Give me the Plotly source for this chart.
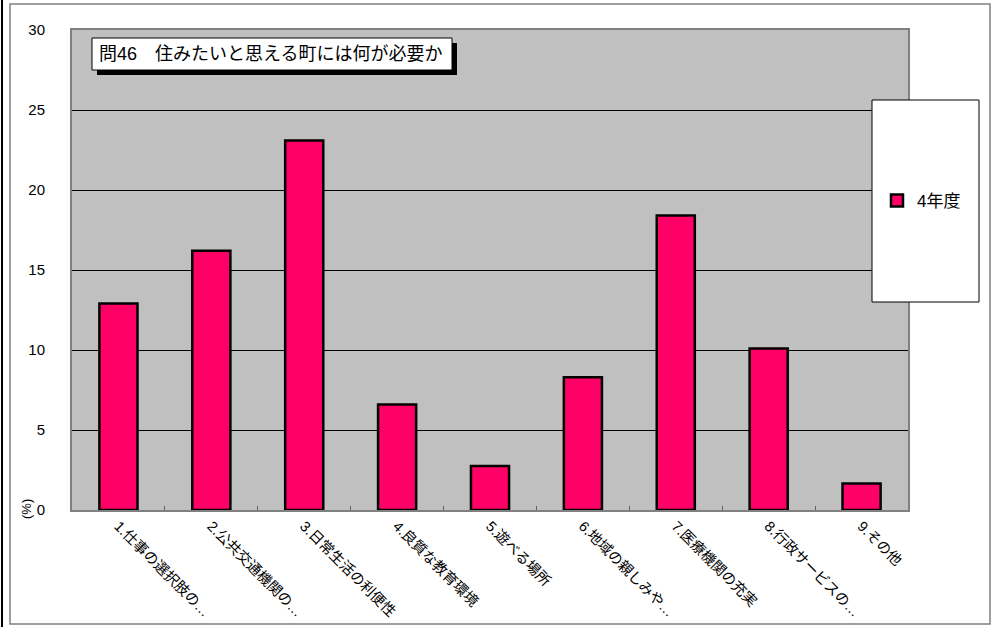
import plotly.graph_objects as go

categories = ["1.仕事の選択肢の…", "2.公共交通機関の…", "3.日常生活の利便性", "4.良質な教育環境",
              "5.遊べる場所", "6.地域の親しみや…", "7.医療機関の充実", "8.行政サービスの…", "9.その他"]
values = [12.9, 16.2, 23.1, 6.6, 2.75, 8.3, 18.4, 10.1, 1.65]
series_name = "4年度"
title_text = "問46　住みたいと思える町には何が必要か"
y_ticks = [0, 5, 10, 15, 20, 25, 30]

W, H = 1004, 627
L, R, T, B = 72, 908, 30, 510
FONT = "Liberation Sans, Noto Sans CJK JP, sans-serif"


def px(x):
    return (x - L) / (R - L)


def py(y):
    return (B - y) / (B - T)


fig = go.Figure()
fig.add_trace(go.Bar(
    x=categories, y=values, name=series_name,
    marker=dict(color="#FF0066", line=dict(color="black", width=2.5)),
    width=0.41,
))

shapes = [
    # outer chart frame
    dict(type="rect", xref="paper", yref="paper", x0=px(10), x1=px(990), y0=py(4), y1=py(624),
         line=dict(color="#808080", width=1.5), fillcolor="rgba(0,0,0,0)", layer="below"),
    # window edge on the left
    dict(type="line", xref="paper", yref="paper", x0=px(2), x1=px(2), y0=py(0), y1=py(627),
         line=dict(color="black", width=2)),
    # title shadow
    dict(type="rect", xref="paper", yref="paper", x0=px(97), x1=px(457), y0=py(43), y1=py(75),
         line=dict(width=0), fillcolor="black"),
    # title box
    dict(type="rect", xref="paper", yref="paper", x0=px(92), x1=px(452), y0=py(38), y1=py(70),
         line=dict(color="black", width=1), fillcolor="white"),
    # legend box
    dict(type="rect", xref="paper", yref="paper", x0=px(872), x1=px(979), y0=py(100), y1=py(302),
         line=dict(color="black", width=1), fillcolor="white"),
]

annotations = [
    dict(text=title_text, xref="paper", yref="paper", x=px(97), y=py(54), xanchor="left",
         yanchor="middle", showarrow=False, font=dict(family=FONT, size=18, color="black")),
    dict(text="(%)", xref="paper", yref="paper", x=px(26), y=py(509), xanchor="center",
         yanchor="middle", textangle=-90, showarrow=False, font=dict(family=FONT, size=13, color="black")),
]

fig.update_layout(
    width=W, height=H,
    margin=dict(l=L, r=W - R, t=T, b=H - B, pad=0, autoexpand=False),
    paper_bgcolor="white", plot_bgcolor="#C0C0C0",
    font=dict(family=FONT, size=13, color="black"),
    showlegend=True,
    legend=dict(x=px(877), y=py(201), xanchor="left", yanchor="middle", bgcolor="rgba(0,0,0,0)",
                borderwidth=0, font=dict(family=FONT, size=17, color="black"),
                itemwidth=30),
    shapes=shapes, annotations=annotations,
    bargap=0.59,
)
fig.update_xaxes(
    type="category", tickangle=45, showgrid=False, showline=True, mirror=True, automargin=False,
    linecolor="#808080", linewidth=2, ticks="inside", tickson="boundaries", ticklen=4,
    tickcolor="#606060", tickfont=dict(family=FONT, size=14.5), fixedrange=True,
)
fig.update_yaxes(
    range=[0, 30], tickvals=y_ticks, showgrid=True, gridcolor="black", gridwidth=1, automargin=False,
    showline=True, mirror=True, linecolor="#808080", linewidth=2, zeroline=False,
    ticks="", ticklabelstandoff=22, tickfont=dict(family=FONT, size=15), fixedrange=True,
)

fig.write_html("out.html", config={"displayModeBar": False},
               post_script="document.body.style.margin='0';document.body.style.overflow='hidden';")
